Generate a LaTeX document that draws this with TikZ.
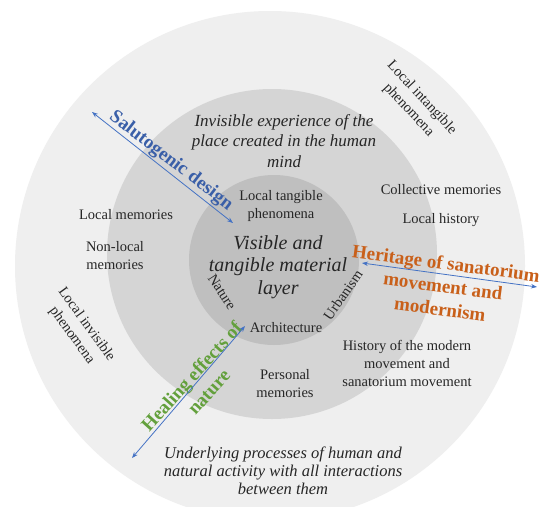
\documentclass[tikz,border=0pt]{standalone}
\usepackage{fontspec}
\setmainfont{Liberation Serif}
\usetikzlibrary{arrows.meta}
\definecolor{ringout}{HTML}{EFEFEF}
\definecolor{ringmid}{HTML}{D5D5D5}
\definecolor{ringin}{HTML}{BFBFBF}
\definecolor{ink}{HTML}{262626}
\definecolor{linkblue}{HTML}{4472C4}
\definecolor{salublue}{HTML}{3A5FA8}
\definecolor{heritorange}{HTML}{C9601A}
\definecolor{healgreen}{HTML}{63A03C}
\begin{document}
\begin{tikzpicture}[x=1pt,y=-1pt,
  txt/.style={text=ink, align=center, inner sep=0pt},
  body/.style={txt, font=\fontsize{14.5}{18}\selectfont},
  lead/.style={txt, font=\fontsize{17}{20.5}\selectfont\itshape},
  core/.style={txt, font=\fontsize{20}{22.5}\selectfont\itshape},
  base/.style={txt, font=\fontsize{16.5}{18}\selectfont\itshape},
  theme/.style={align=center, inner sep=0pt, font=\fontsize{19}{23}\selectfont\bfseries},
  link/.style={draw=linkblue, line width=0.8pt,
    {Stealth[length=6pt,width=4.5pt]}-{Stealth[length=6pt,width=4.5pt]}},
]
\useasboundingbox (0,0) rectangle (540,506);
\clip (0,0) rectangle (540,506);
\fill[white] (0,0) rectangle (540,506);

% three nested layers
\fill[ringout] (270,266) circle[radius=255pt];
\fill[ringmid] (272,254) circle[radius=165pt];
\fill[ringin]  (274,260) circle[radius=85pt];

% inner layer
\node[lead] (invis) at (284,141) {Invisible experience of the\\place created in the human\\mind};
\node[body] (loctang) at (281,206) {Local tangible\\phenomena};
\node[core] (visible) at (278,267) {Visible and\\tangible material\\layer};
\node[body, rotate=-57] (nature) at (222,292) {Nature};
\node[body, rotate=55] (urban) at (343,295) {Urbanism};
\node[body] (arch) at (286,328) {Architecture};

% middle layer
\node[body] (locmem) at (126,215) {Local memories};
\node[body] (nonloc) at (115,256) {Non-local\\memories};
\node[body] (collect) at (441,190) {Collective memories};
\node[body] (lochist) at (441,220) {Local history};
\node[body] (history) at (407,363) {History of the modern\\movement and\\sanatorium movement};
\node[body] (personal) at (285,384) {Personal\\memories};

% outer layer
\node[body, rotate=-54] (locinvis) at (79,330) {Local invisible\\phenomena};
\node[body, rotate=-47] (locintang) at (415,104) {Local intangible\\phenomena};
\node[base] (under) at (283,471) {Underlying processes of human and\\natural activity with all interactions\\between them};

% themes crossing the layers
\coordinate (salA) at (92,112);
\coordinate (salB) at (233,223);
\coordinate (herA) at (362,263);
\coordinate (herB) at (537,287);
\coordinate (healA) at (132,458);
\coordinate (healB) at (245,326);

\node[theme, text=salublue, rotate=-37.6] (salu) at (171,161) {Salutogenic design};
\node[theme, text=heritorange, rotate=-7.5] (herit) at (443,286) {Heritage of sanatorium\\movement and\\modernism};
\node[theme, text=healgreen, rotate=48] (heal) at (200,384) {Healing effects of\\nature};

\draw[link] (salA) -- (salB);
\draw[link] (herA) -- (herB);
\draw[link] (healA) -- (healB);
\end{tikzpicture}
\end{document}
